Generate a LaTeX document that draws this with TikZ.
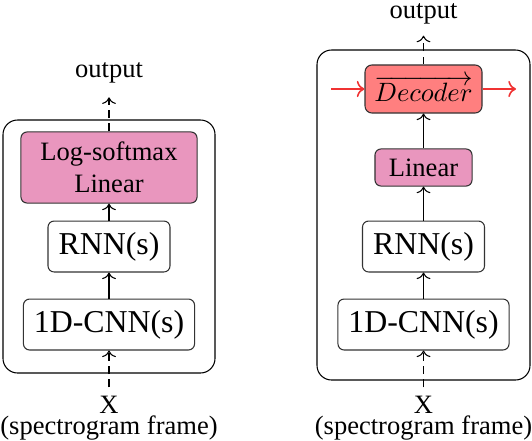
\documentclass[tikz,border=0pt]{standalone}
\usepackage{fontspec}
\setmainfont{Liberation Serif}
\usetikzlibrary{arrows.meta,positioning}
\definecolor{blockpink}{RGB}{233,150,190}
\definecolor{decred}{RGB}{255,127,127}
\definecolor{ctxred}{RGB}{240,50,50}

\begin{document}
\begin{tikzpicture}[x=0.377pt,y=-0.377pt,every node/.style={font=\normalsize}]
  \tikzset{
    blk/.style={draw=black!80,rounded corners=2.3pt,inner sep=0pt,minimum height=19.2pt,font=\large},
    flow/.style={-{To}},
    frame/.style={draw,rounded corners=5.5pt}
  }
  \useasboundingbox (0,0) rectangle (532,440);
  \draw[frame] (3,120) rectangle (215,373);
  \draw[frame] (317,50) rectangle (530,380);
  \foreach \col/\cx in {l/109,r/423.5} {
    \node[blk,minimum width=64.5pt] (cnn\col) at (\cx,324.5) {1D-CNN(s)};
    \node[blk,minimum width=46pt] (rnn\col) at (\cx,246.5) {RNN(s)};
    \node[align=center,inner sep=1pt,font={\fontsize{10}{8}\selectfont}] (x\col) at (\cx,418) {X\\(spectrogram frame)};
    \draw[flow,densely dashed,shorten <=2pt] (x\col) -- (cnn\col);
    \draw[flow] (cnn\col) -- (rnn\col);
  }
  \node[blk,fill=blockpink,align=center,minimum width=66.4pt,minimum height=26.8pt,font=\normalsize] (lsm) at (109,167.5) {Log-softmax\\Linear};
  \node[anchor=base] (outl) at (109,77) {output};
  \draw[flow] (rnnl) -- (lsm);
  \draw[flow,densely dashed,shorten >=2pt] (lsm) -- (outl);
  \node[blk,fill=decred,minimum width=44.1pt,minimum height=18.1pt,rounded corners=2.6pt,font=\normalsize] (dec) at (423.5,89) {$\overrightarrow{Decoder}$};
  \node[blk,fill=blockpink,minimum width=36.6pt,minimum height=14pt,font=\normalsize] (lin) at (423.5,167.5) {Linear};
  \node[anchor=base] (outr) at (423.5,18) {output};
  \coordinate (ctxin) at (331,89);
  \coordinate (ctxout) at (516,89);
  \draw[flow] (rnnr) -- (lin);
  \draw[flow] (lin) -- (dec);
  \draw[flow,densely dashed,shorten >=1pt] (dec) -- (outr);
  \draw[flow,ctxred,semithick] (ctxin) -- (dec);
  \draw[flow,ctxred,semithick] (dec) -- (ctxout);
\end{tikzpicture}
\end{document}
